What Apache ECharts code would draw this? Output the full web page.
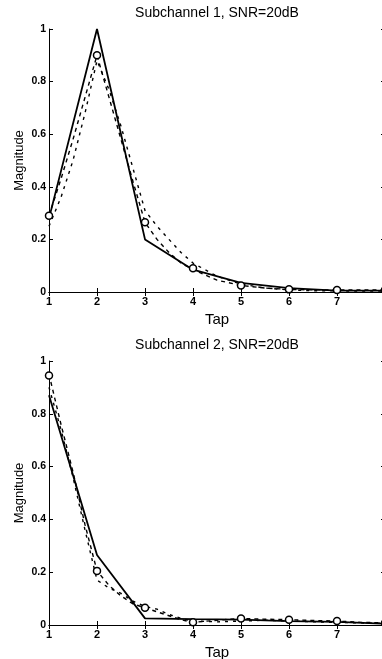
<!DOCTYPE html>
<html>
<head>
<meta charset="utf-8">
<script src="https://cdn.jsdelivr.net/npm/echarts@6/dist/echarts.min.js"></script>
<style>
  html, body { margin: 0; padding: 0; background: #fff; }
  #chart { width: 382px; height: 659px; }
</style>
</head>
<body>
<div id="chart"></div>
<script>
// 抽头位置
const taps = [1, 2, 3, 4, 5, 6, 7, 8]
const fineTaps = [1, 1.25, 1.5, 1.75, 2, 2.25, 2.5, 2.75, 3, 3.25, 3.5, 3.75, 4, 4.5, 5, 5.5, 6, 6.5, 7, 7.5, 8]

// 子信道 1
const trueSub1 = [0.28, 1.0, 0.20, 0.085, 0.035, 0.015, 0.005, 0.005]
const circSub1 = [0.29, 0.90, 0.265, 0.09, 0.025, 0.01, 0.008, 0.008]
const dashA1 = [0.29, 0.43, 0.58, 0.74, 0.90, 0.74, 0.58, 0.42, 0.265, 0.2, 0.15, 0.11, 0.085, 0.045, 0.025, 0.015, 0.01, 0.008, 0.008, 0.008, 0.008]
const dashB1 = [0.25, 0.36, 0.50, 0.68, 0.88, 0.77, 0.63, 0.47, 0.31, 0.25, 0.20, 0.15, 0.11, 0.06, 0.03, 0.015, 0.008, 0.005, 0.004, 0.004, 0.004]

// 子信道 2
const trueSub2 = [0.87, 0.265, 0.025, 0.022, 0.02, 0.015, 0.012, 0.005]
const circSub2 = [0.945, 0.205, 0.065, 0.01, 0.025, 0.02, 0.015, 0.008]
const dashA2 = [0.95, 0.76, 0.58, 0.38, 0.205, 0.15, 0.11, 0.08, 0.065, 0.05, 0.035, 0.02, 0.01, 0.018, 0.025, 0.022, 0.02, 0.017, 0.015, 0.01, 0.008]
const dashB2 = [0.90, 0.74, 0.56, 0.36, 0.17, 0.14, 0.12, 0.09, 0.07, 0.06, 0.04, 0.025, 0.015, 0.012, 0.015, 0.018, 0.015, 0.012, 0.01, 0.008, 0.006]

const titles = ['Subchannel 1, SNR=20dB', 'Subchannel 2, SNR=20dB']
const xTicks = { min: 1, max: 8, interval: 1 }
const yTicks = { min: 0, max: 1, interval: 0.2 }

const font = 'Liberation Sans, Arial, sans-serif'
const black = '#000'

const chart = echarts.init(document.getElementById('chart'))

const pair = (xs, ys) => xs.map((x, i) => [x, ys[i]])

// 右边框在画布外，被截断
const grids = [
  { left: 49, top: 29, width: 336, height: 263, outerBoundsMode: 'none' },
  { left: 49, top: 361, width: 336, height: 264, outerBoundsMode: 'none' }
]

const xAxes = []
const yAxes = []
grids.forEach((g, gi) => {
  // 下方 x 轴
  xAxes.push({
    type: 'value', gridIndex: gi, position: 'bottom', ...xTicks,
    axisLine: { lineStyle: { color: black, width: 1 } },
    axisTick: { inside: true, length: 4, lineStyle: { color: black } },
    axisLabel: { color: black, fontWeight: 'bold', fontSize: 11, fontFamily: font, margin: 4, hideOverlap: false },
    splitLine: { show: false },
    name: 'Tap', nameLocation: 'middle', nameGap: 20,
    nameTextStyle: { color: black, fontSize: 15, fontFamily: font }
  })
  // 上方边框 + 标题
  xAxes.push({
    type: 'value', gridIndex: gi, position: 'top', ...xTicks,
    axisLine: { lineStyle: { color: black, width: 1 } },
    axisTick: { inside: true, length: 4, lineStyle: { color: black } },
    axisLabel: { show: false },
    splitLine: { show: false },
    name: titles[gi], nameLocation: 'middle', nameGap: 9,
    nameTextStyle: { color: black, fontSize: 14, fontFamily: font }
  })
  yAxes.push({
    type: 'value', gridIndex: gi, position: 'left', ...yTicks,
    axisLine: { show: true, lineStyle: { color: black, width: 1 } },
    axisTick: { show: true, inside: true, length: 4, lineStyle: { color: black } },
    axisLabel: { color: black, fontWeight: 'bold', fontSize: 10.5, fontFamily: font, margin: 3 },
    splitLine: { show: false },
    name: 'Magnitude', nameLocation: 'middle', nameRotate: 90, nameGap: 23, nameMoveOverlap: false,
    nameTextStyle: { color: black, fontSize: 13, fontFamily: font }
  })
  yAxes.push({
    type: 'value', gridIndex: gi, position: 'right', ...yTicks,
    axisLine: { show: true, lineStyle: { color: black, width: 1 } },
    axisTick: { show: true, inside: true, length: 4, lineStyle: { color: black } },
    axisLabel: { show: false },
    splitLine: { show: false }
  })
})

const plotSeries = (gi, trueVals, circVals, dashA, dashB) => {
  const axisIdx = { xAxisIndex: gi * 2, yAxisIndex: gi * 2 }
  return [
    {
      type: 'line', ...axisIdx, data: pair(taps, trueVals),
      showSymbol: false, lineStyle: { color: black, width: 1.8 }
    },
    {
      type: 'line', ...axisIdx, data: pair(fineTaps, dashA),
      showSymbol: false, lineStyle: { color: black, width: 1.4, type: [4, 4] }
    },
    {
      type: 'line', ...axisIdx, data: pair(fineTaps, dashB),
      showSymbol: false, lineStyle: { color: black, width: 1.4, type: [3, 5] }
    },
    {
      type: 'scatter', ...axisIdx, data: pair(taps, circVals),
      symbol: 'circle', symbolSize: 7, z: 5,
      itemStyle: { color: '#fff', opacity: 1, borderColor: black, borderWidth: 1.5 }
    }
  ]
}

chart.setOption({
  animation: false,
  backgroundColor: '#fff',
  grid: grids,
  xAxis: xAxes,
  yAxis: yAxes,
  series: [
    ...plotSeries(0, trueSub1, circSub1, dashA1, dashB1),
    ...plotSeries(1, trueSub2, circSub2, dashA2, dashB2)
  ]
})
</script>
</body>
</html>
